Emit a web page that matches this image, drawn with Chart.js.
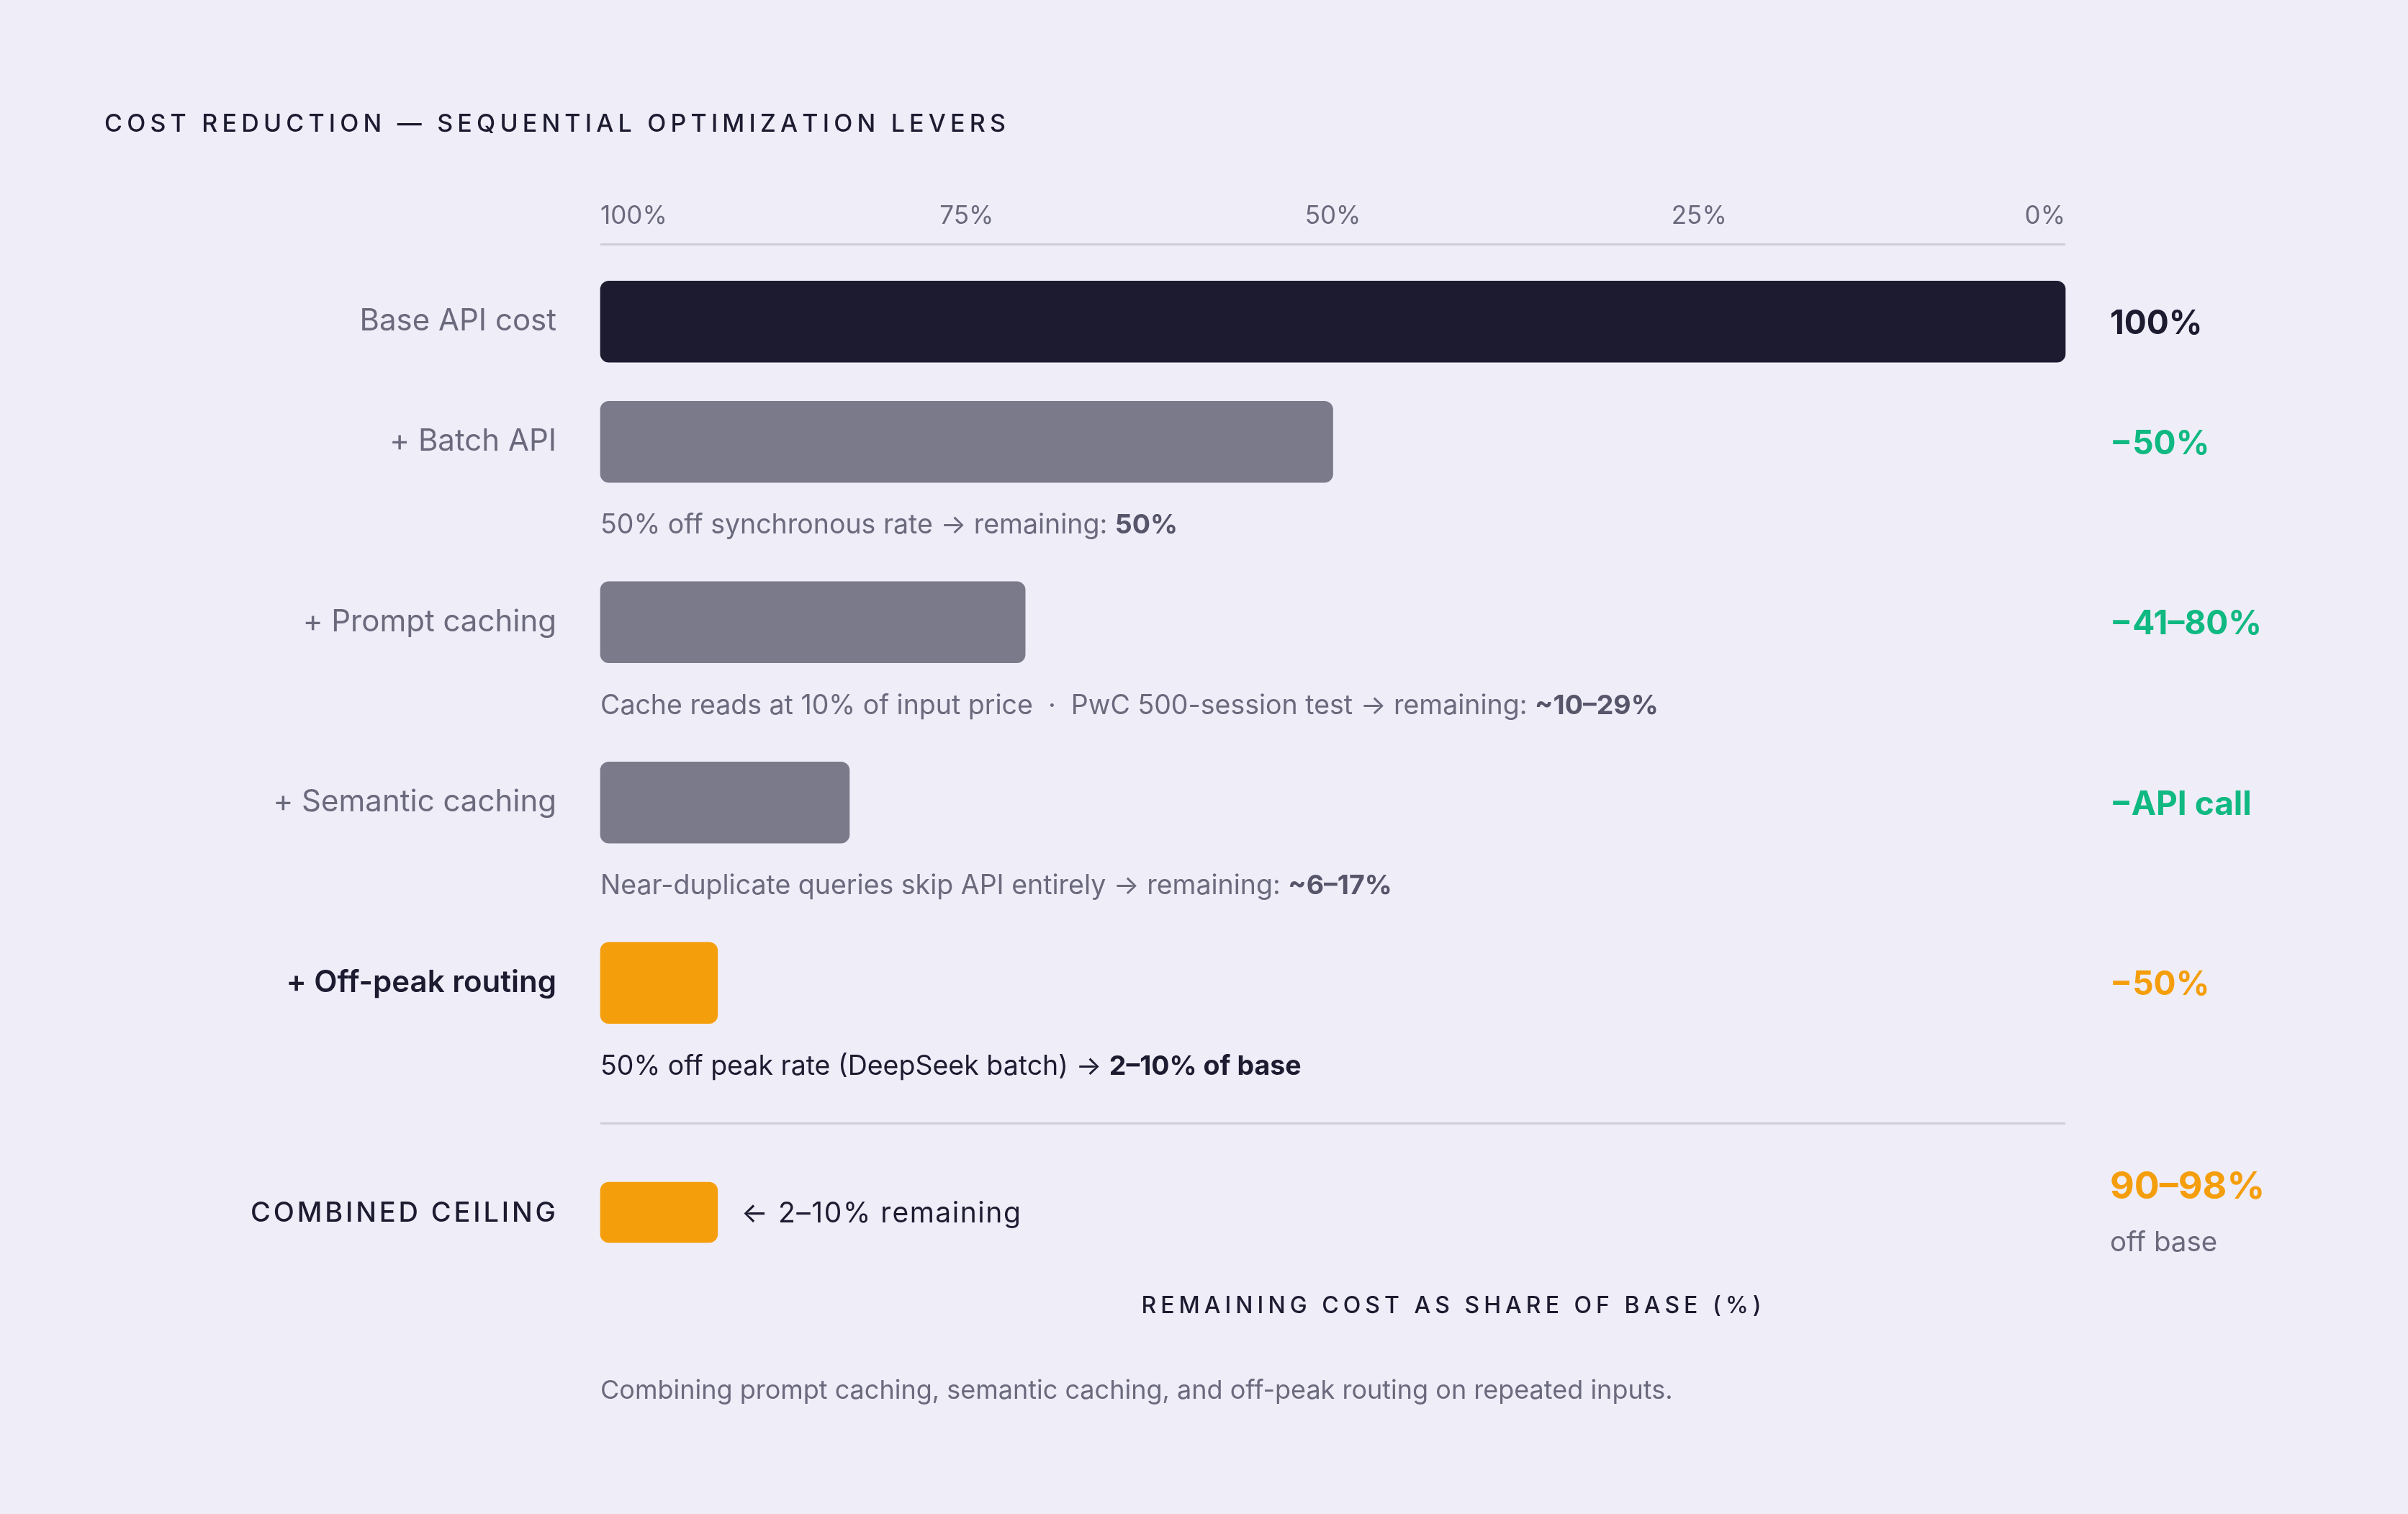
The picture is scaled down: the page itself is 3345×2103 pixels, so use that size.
<!DOCTYPE html>
<html>
<head>
<meta charset="utf-8">
<title>Cost reduction levers</title>
<script src="https://cdn.jsdelivr.net/npm/chart.js@4.4.1/dist/chart.umd.min.js"></script>
<style>
  html, body { margin: 0; padding: 0; background: #efedf8; }
  body { width: 3345px; height: 2103px; position: relative; overflow: hidden; }
  canvas { position: absolute; left: 0; }
  #main { top: 0; }
  #combined { top: 1590px; }
</style>
</head>
<body>
<canvas id="main" width="3345" height="1590"></canvas>
<canvas id="combined" width="3345" height="513"></canvas>
<script>
// Data
const levers = ['Base API cost', '+ Batch API', '+ Prompt caching', '+ Semantic caching', '+ Off-peak routing'];
const remaining = [100, 50, 29, 17, 8];
const deltaLabels = ['100%', '−50%', '−41–80%', '−API call', '−50%'];
const noteText = [
  null,
  '50% off synchronous rate → remaining: ',
  'Cache reads at 10% of input price  ·  PwC 500-session test → remaining: ',
  'Near-duplicate queries skip API entirely → remaining: ',
  '50% off peak rate (DeepSeek batch) → ',
];
const noteBold = [null, '50%', '~10–29%', '~6–17%', '2–10% of base'];
const xTickValues = [0, 25, 50, 75, 100];
const xTickLabels = ['100%', '75%', '50%', '25%', '0%'];
const combinedLabel = 'COMBINED CEILING';
const combinedRemaining = 8;
const combinedNote = '← 2–10% remaining';
const combinedSaving = '90–98%';
const combinedSavingSub = 'off base';

const TITLE = 'COST REDUCTION — SEQUENTIAL OPTIMIZATION LEVERS';
const AXIS_TITLE = 'REMAINING COST AS SHARE OF BASE (%)';
const FOOTNOTE = 'Combining prompt caching, semantic caching, and off-peak routing on repeated inputs.';

// Palette
const C = {
  dark: '#1c1b30',
  grayText: '#6b6a7d',
  grayBold: '#56556a',
  grayBar: '#7b7a8a',
  rule: '#cfcdda',
  green: '#10b981',
  orange: '#f59e0b',
};
const FONT = 'Inter, "Noto Sans", sans-serif';
const barColors = [C.dark, C.grayBar, C.grayBar, C.grayBar, C.orange];
const deltaColors = [C.dark, C.green, C.green, C.green, C.orange];

// Row layout: a row with a note below takes 3 slots, without takes 2
const rowSlot = [];
let n = 0;
levers.forEach((_, i) => { rowSlot.push(n); n += noteText[i] ? 3 : 2; });
const slotLabels = Array.from({length: n}, (_, s) => {
  const i = rowSlot.indexOf(s);
  return i >= 0 ? levers[i] : '';
});
const slotValues = slotLabels.map((_, s) => {
  const i = rowSlot.indexOf(s);
  return i >= 0 ? remaining[i] : null;
});
const slotColors = slotLabels.map((_, s) => {
  const i = rowSlot.indexOf(s);
  return i >= 0 ? barColors[i] : 'transparent';
});
const highlightSlot = rowSlot[levers.length - 1];

// Text helpers
function font(size, weight='400'){ return `${weight} ${size}px ${FONT}`; }

function spacedText(ctx, text, x, y, width, align='left'){
  const chars = [...text];
  const ws = chars.map(c => ctx.measureText(c).width);
  const raw = ws.reduce((a, b) => a + b, 0);
  const gap = chars.length > 1 ? (width - raw) / (chars.length - 1) : 0;
  let cx = align === 'right' ? x - width : align === 'center' ? x - width / 2 : x;
  ctx.textAlign = 'left';
  chars.forEach((c, i) => { ctx.fillText(c, cx, y); cx += ws[i] + gap; });
}

function mixedText(ctx, parts, x, y){
  let cx = x;
  ctx.textAlign = 'left';
  parts.forEach(p => {
    ctx.font = p.font;
    ctx.fillStyle = p.color;
    ctx.fillText(p.text, cx, y);
    cx += ctx.measureText(p.text).width;
  });
}

// keep the y axis from pushing the chart area in
const noVerticalPadding = s => { s.width = 834; s.paddingTop = 0; s.paddingBottom = 0; };

const mainDecor = {
  id: 'mainDecor',
  afterDraw(chart){
    const {ctx, chartArea: a} = chart;
    const meta = chart.getDatasetMeta(0);
    ctx.save();
    ctx.textBaseline = 'middle';

    // title
    ctx.font = font(34, '500');
    ctx.fillStyle = C.dark;
    spacedText(ctx, TITLE, 145, 173, 1252);

    // axis rule and separator rule
    ctx.fillStyle = C.rule;
    ctx.fillRect(a.left, 338, a.right - a.left, 3);
    ctx.fillRect(a.left, 1559, a.right - a.left, 3);

    levers.forEach((name, i) => {
      const bar = meta.data[rowSlot[i]];
      if(!bar) return;
      // delta label on the right
      ctx.font = font(46, '700');
      ctx.fillStyle = deltaColors[i];
      ctx.textAlign = 'left';
      ctx.fillText(deltaLabels[i], a.right + 62, bar.y + 3);
      // note under the bar
      if(noteText[i]){
        const last = i === levers.length - 1;
        mixedText(ctx, [
          {text: noteText[i], font: font(37.5), color: last ? C.dark : C.grayText},
          {text: noteBold[i], font: font(37.5, '700'), color: last ? C.dark : C.grayBold},
        ], a.left, bar.y + 116);
      }
    });
    ctx.restore();
  }
};

const combinedDecor = {
  id: 'combinedDecor',
  afterDraw(chart){
    const {ctx, chartArea: a} = chart;
    const bar = chart.getDatasetMeta(0).data[0];
    ctx.save();
    ctx.textBaseline = 'middle';
    ctx.fillStyle = C.dark;
    ctx.font = font(38, '500');
    spacedText(ctx, combinedLabel, a.left - 62, bar.y + 2, 424, 'right');
    ctx.font = font(39);
    spacedText(ctx, combinedNote, bar.x + 33, bar.y + 2, 388);

    ctx.textAlign = 'left';
    ctx.font = font(52, '700');
    ctx.fillStyle = C.orange;
    ctx.fillText(combinedSaving, a.right + 62, bar.y - 35);
    ctx.font = font(38.5);
    ctx.fillStyle = C.grayText;
    ctx.fillText(combinedSavingSub, a.right + 62, bar.y + 42);

    ctx.font = font(32, '500');
    ctx.fillStyle = C.dark;
    spacedText(ctx, AXIS_TITLE, 2016, bar.y + 130, 861, 'center');

    ctx.font = font(36);
    ctx.fillStyle = C.grayText;
    ctx.textAlign = 'left';
    ctx.fillText(FOOTNOTE, a.left, bar.y + 248);
    ctx.restore();
  }
};

function baseXScale(extra){
  return Object.assign({
    type: 'linear', min: 0, max: 100,
    grid: {display: false, drawTicks: false},
    border: {display: false},
    afterBuildTicks: s => { s.ticks = xTickValues.map(v => ({value: v})); },
  }, extra);
}

function setupMain(){
  new Chart(document.getElementById('main'), {
    type: 'bar',
    data: {
      labels: slotLabels,
      datasets: [{
        data: slotValues,
        backgroundColor: slotColors,
        barThickness: 113,
        borderRadius: 12,
        borderSkipped: false,
        clip: false,
      }]
    },
    options: {
      indexAxis: 'y',
      responsive: false,
      devicePixelRatio: 1,
      animation: false,
      layout: {padding: {top: 205, right: 476, bottom: 16, left: 0}},
      plugins: {legend: {display: false}, tooltip: {enabled: false}},
      scales: {
        x: baseXScale({
          position: 'top',
          afterFit: s => { s.height = 200; },
          ticks: {
            align: 'inner', padding: 84, color: C.grayText,
            font: {family: FONT, size: 35},
            callback: (v, i) => xTickLabels[i],
          },
        }),
        y: {
          type: 'category', offset: true,
          grid: {display: false, drawTicks: false},
          border: {display: false},
          afterFit: noVerticalPadding,
          ticks: {
            autoSkip: false, padding: 61,
            color: c => c.index === highlightSlot ? C.dark : C.grayText,
            font: c => ({family: FONT, size: 42, weight: c.index === highlightSlot ? '600' : '400'}),
          },
        },
      },
    },
    plugins: [mainDecor],
  });
}

function setupCombined(){
  new Chart(document.getElementById('combined'), {
    type: 'bar',
    data: {
      labels: [combinedLabel],
      datasets: [{
        data: [combinedRemaining],
        backgroundColor: C.orange,
        barThickness: 84,
        borderRadius: 12,
        borderSkipped: false,
        clip: false,
      }]
    },
    options: {
      indexAxis: 'y',
      responsive: false,
      devicePixelRatio: 1,
      animation: false,
      layout: {padding: {top: 0, right: 476, bottom: 325, left: 0}},
      plugins: {legend: {display: false}, tooltip: {enabled: false}},
      scales: {
        x: baseXScale({display: false}),
        y: {
          type: 'category', offset: true,
          grid: {display: false, drawTicks: false},
          border: {display: false},
          afterFit: noVerticalPadding,
          ticks: {display: false},
        },
      },
    },
    plugins: [combinedDecor],
  });
}

function init(){
  setupMain();
  setupCombined();
}

Promise.all([
  document.fonts.load(font(40)),
  document.fonts.load(font(40, '500')),
  document.fonts.load(font(40, '600')),
  document.fonts.load(font(40, '700')),
]).catch(() => {}).then(init);
</script>
</body>
</html>
